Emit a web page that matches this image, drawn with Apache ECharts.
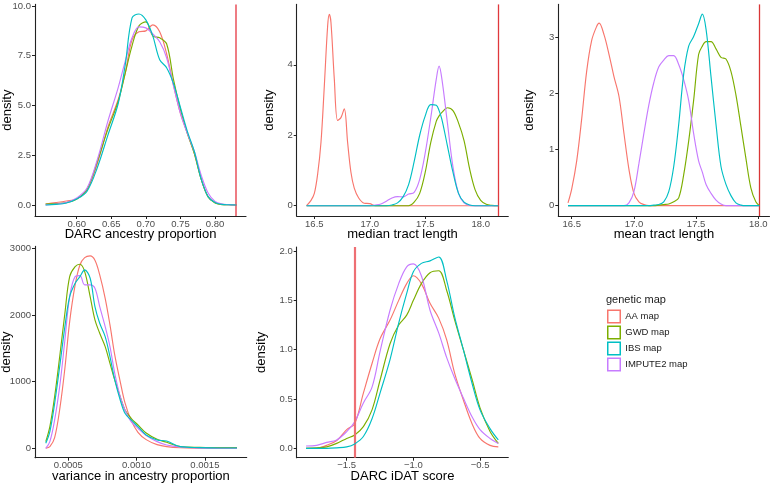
<!DOCTYPE html>
<html><head><meta charset="utf-8">
<script src="https://cdn.jsdelivr.net/npm/echarts@6/dist/echarts.min.js"></script>
<style>html,body{margin:0;padding:0;background:#fff}#c{width:770px;height:485px}</style>
</head><body><div id="c"></div>
<script>
// ---------- data ----------
const groupNames = ['AA map', 'GWD map', 'IBS map', 'IMPUTE2 map'];
const legendTitle = 'genetic map';
const xTitles = ['DARC ancestry proportion', 'median tract length', 'mean tract length', 'variance in ancestry proportion', 'DARC iDAT score'];
const yTitle = 'density';
const observedValues = [0.831, 18.16, 18.01, 0.000793, -1.438];

// panel 1: DARC ancestry proportion
const p1X   = [0.555,0.57,0.585,0.60,0.615,0.63,0.645,0.66,0.67,0.68,0.69,0.70,0.71,0.72,0.73,0.74,0.75,0.76,0.77,0.78,0.79,0.80,0.81,0.82,0.831];
const p1AA  = [0.05,0.12,0.2,0.3,0.75,2.1,3.9,5.3,6.6,8.3,8.7,8.75,9.05,8.7,7.6,6.0,4.6,3.6,2.6,1.3,0.42,0.12,0.03,0.01,0];
const p1GWD = [0.05,0.07,0.12,0.3,0.8,2.2,3.8,5.2,6.6,8.0,9.0,9.2,8.5,8.4,8.1,6.3,4.8,3.6,2.6,1.3,0.4,0.1,0.02,0.01,0];
const p1IBS = [0.0,0.03,0.1,0.3,0.7,1.9,3.5,5.1,7.0,9.4,9.6,9.3,8.5,7.3,6.9,6.1,4.9,3.7,2.7,1.3,0.42,0.12,0.03,0.01,0];
const p1IMP = [0.0,0.05,0.12,0.35,0.85,2.3,4.2,5.9,7.2,8.4,8.95,8.9,8.6,8.2,7.4,6.0,4.6,3.6,2.7,1.5,0.6,0.18,0.05,0.02,0];
const p1XTicks = [0.60,0.65,0.70,0.75,0.80];
const p1XTickLabels = ['0.60','0.65','0.70','0.75','0.80'];
const p1YTicks = [0,2.5,5,7.5,10];
const p1YTickLabels = ['0.0','2.5','5.0','7.5','10.0'];

// panel 2: median tract length
const p2X   = [16.43,16.47,16.50,16.53,16.56,16.59,16.62,16.635,16.65,16.68,16.71,16.74,16.77,16.80,16.83,16.86,16.90,16.95,17.00,17.05,17.10,17.15,17.20,17.25,17.30,17.35,17.40,17.45,17.50,17.55,17.60,17.625,17.65,17.70,17.75,17.80,17.85,17.90,17.95,18.00,18.05,18.10,18.16];
const p2AA  = [0,0.15,0.35,0.9,1.8,3.4,5.1,5.43,5.2,3.6,2.42,2.5,2.75,1.8,0.95,0.5,0.22,0.07,0.06,0,0,0,0,0,0,0,0,0,0,0,0,0,0,0,0,0,0,0,0,0,0,0,0];
const p2GWD = [0,0,0,0,0,0,0,0,0,0,0,0,0,0,0,0,0,0,0,0,0,0,0,0,0,0,0.1,0.35,0.95,1.8,2.4,2.55,2.65,2.78,2.7,2.35,1.85,1.05,0.45,0.15,0.04,0.01,0];
const p2IBS = [0,0,0,0,0,0,0,0,0,0,0,0,0,0,0,0,0,0,0,0,0,0,0.02,0.08,0.25,0.6,1.25,2.0,2.55,2.87,2.85,2.7,2.45,1.7,0.95,0.35,0.1,0.02,0,0,0,0,0];
const p2IMP = [0,0,0,0,0,0,0,0,0,0,0,0,0,0,0,0,0,0,0,0.02,0.05,0.13,0.22,0.26,0.25,0.33,0.38,0.75,1.5,2.5,3.6,3.96,3.6,2.35,1.1,0.35,0.08,0.01,0,0,0,0,0];
const p2XTicks = [16.5,17.0,17.5,18.0];
const p2XTickLabels = ['16.5','17.0','17.5','18.0'];
const p2YTicks = [0,2,4];
const p2YTickLabels = ['0','2','4'];

// panel 3: mean tract length
const p3X   = [16.47,16.50,16.54,16.58,16.62,16.66,16.70,16.72,16.76,16.80,16.84,16.88,16.92,16.96,17.00,17.04,17.08,17.12,17.16,17.20,17.24,17.28,17.32,17.36,17.40,17.44,17.48,17.52,17.55,17.58,17.62,17.66,17.70,17.74,17.78,17.82,17.86,17.90,17.94,17.98,18.01];
const p3AA  = [0.05,0.3,0.8,1.55,2.4,2.95,3.2,3.26,3.05,2.7,2.3,1.95,1.29,0.65,0.22,0.07,0.02,0,0,0,0,0,0,0,0,0,0,0,0,0,0,0,0,0,0,0,0,0,0,0,0];
const p3GWD = [0,0,0,0,0,0,0,0,0,0,0,0,0,0,0,0,0,0,0,0.01,0.02,0.03,0.07,0.14,0.55,1.15,1.88,2.7,2.85,2.93,2.93,2.8,2.65,2.62,2.4,1.98,1.42,0.85,0.32,0.07,0];
const p3IBS = [0,0,0,0,0,0,0,0,0,0,0,0,0,0,0,0,0,0,0.01,0.02,0.07,0.25,0.7,1.45,2.35,2.85,3.02,3.25,3.42,3.15,2.3,1.45,0.7,0.38,0.18,0.05,0.01,0,0,0,0];
const p3IMP = [0,0,0,0,0,0,0,0,0,0,0,0,0,0.05,0.25,0.75,1.29,1.8,2.2,2.48,2.6,2.68,2.68,2.52,2.25,1.88,1.29,0.8,0.6,0.38,0.22,0.1,0.03,0,0,0,0,0,0,0,0];
const p3XTicks = [16.5,17.0,17.5,18.0];
const p3XTickLabels = ['16.5','17.0','17.5','18.0'];
const p3YTicks = [0,1,2,3];
const p3YTickLabels = ['0','1','2','3'];

// panel 4: variance in ancestry proportion
const p4X   = [0.000335,0.000365,0.0004,0.00044,0.000475,0.00051,0.00055,0.000585,0.00062,0.00066,0.000695,0.00073,0.00077,0.000805,0.00084,0.00088,0.000915,0.00096,0.00101,0.00107,0.00115,0.00122,0.00132,0.00146,0.00161,0.001735];
const p4AA  = [0,25,160,625,1200,1900,2450,2750,2860,2885,2820,2600,2250,1850,1400,1000,680,420,240,130,55,25,8,2,0,0];
const p4GWD = [100,325,775,1425,2025,2575,2725,2760,2650,2275,1925,1725,1525,1275,1025,775,575,450,350,230,135,90,25,15,10,10];
const p4IBS = [75,250,675,1275,1825,2275,2475,2575,2675,2550,2125,1875,1675,1375,1025,725,525,425,325,200,125,110,25,10,5,5];
const p4IMP = [0,100,425,975,1625,2275,2575,2590,2450,2450,2400,2125,1825,1525,1125,775,575,400,300,190,100,50,20,5,0,0];
const p4XTicks = [0.0005,0.0010,0.0015];
const p4XTickLabels = ['0.0005','0.0010','0.0015'];
const p4YTicks = [0,1000,2000,3000];
const p4YTickLabels = ['0','1000','2000','3000'];

// panel 5: DARC iDAT score
const p5X   = [-1.805,-1.725,-1.65,-1.575,-1.5,-1.44,-1.375,-1.31,-1.25,-1.175,-1.11,-1.05,-1.0,-0.94,-0.875,-0.81,-0.75,-0.69,-0.625,-0.56,-0.5,-0.425,-0.363];
const p5AA  = [0,0,0.03,0.08,0.19,0.25,0.56,0.86,1.11,1.3,1.5,1.67,1.75,1.67,1.47,1.32,1.1,0.76,0.49,0.25,0.1,0.03,0.015];
const p5GWD = [0,0.005,0.015,0.05,0.1,0.135,0.22,0.39,0.69,1.06,1.25,1.35,1.5,1.67,1.78,1.8,1.6,1.3,1.0,0.7,0.41,0.17,0.05];
const p5IBS = [0,0,0,0.005,0.015,0.045,0.12,0.3,0.56,0.9,1.27,1.57,1.79,1.875,1.9,1.94,1.7,1.33,1.0,0.66,0.39,0.2,0.085];
const p5IMP = [0.024,0.03,0.06,0.085,0.17,0.27,0.46,0.62,0.98,1.4,1.67,1.84,1.87,1.75,1.4,1.17,0.92,0.71,0.51,0.32,0.19,0.1,0.05];
const p5XTicks = [-1.5,-1.0,-0.5];
const p5XTickLabels = ['\u22121.5','\u22121.0','\u22120.5'];
const p5YTicks = [0,0.5,1.0,1.5,2.0];
const p5YTickLabels = ['0.0','0.5','1.0','1.5','2.0'];

// ---------- assembly ----------
const panels = [
  {x: p1X, ys: [p1AA, p1GWD, p1IBS, p1IMP], xt: p1XTicks, xl: p1XTickLabels, yt: p1YTicks, yl: p1YTickLabels},
  {x: p2X, ys: [p2AA, p2GWD, p2IBS, p2IMP], xt: p2XTicks, xl: p2XTickLabels, yt: p2YTicks, yl: p2YTickLabels},
  {x: p3X, ys: [p3AA, p3GWD, p3IBS, p3IMP], xt: p3XTicks, xl: p3XTickLabels, yt: p3YTicks, yl: p3YTickLabels},
  {x: p4X, ys: [p4AA, p4GWD, p4IBS, p4IMP], xt: p4XTicks, xl: p4XTickLabels, yt: p4YTicks, yl: p4YTickLabels},
  {x: p5X, ys: [p5AA, p5GWD, p5IBS, p5IMP], xt: p5XTicks, xl: p5XTickLabels, yt: p5YTicks, yl: p5YTickLabels}
];

// layout & style
const FONT = '"Liberation Sans", Arial, Helvetica, sans-serif';
const groupColors = ['#F8766D', '#7CAE00', '#00BFC4', '#C77CFF'];
const drawOrder = [0, 1, 3, 2];
const layout = [
  {left: 35,    top: 4.4,   right: 246,   bottom: 216,   xMin: 0.5397,    xMax: 0.8448,   yMin: -0.553, yMax: 10.08, xGap: 11.5, yGap: 21,   vw: 1.5, vc: '#E8515A'},
  {left: 296.7, top: 4.4,   right: 508.3, bottom: 216,   xMin: 16.341,    xMax: 18.249,   yMin: -0.292, yMax: 5.714, xGap: 11.5, yGap: 21,   vw: 1.3, vc: '#E0383C'},
  {left: 558.3, top: 4.4,   right: 769.5, bottom: 216,   xMin: 16.392,    xMax: 18.09,    yMin: -0.184, yMax: 3.595, xGap: 11.5, yGap: 22.5, vw: 1.3, vc: '#D93636'},
  {left: 35,    top: 246.4, right: 246.7, bottom: 457.7, xMin: 0.0002562, xMax: 0.001806, yMin: -141,   yMax: 3028,  xGap: 12.5, yGap: 22.5, vw: 1.0, vc: '#E52B2B'},
  {left: 296.7, top: 247,   right: 508.3, bottom: 457.7, xMin: -1.875,    xMax: -0.288,   yMin: -0.095, yMax: 2.041, xGap: 12.5, yGap: 28.5, vw: 2.2, vc: '#EE6F74'}
];

function labelFor(ticks, labels) {
  return function (v) {
    for (let i = 0; i < ticks.length; i++) {
      if (Math.abs(ticks[i] - v) <= Math.abs(ticks[i]) * 1e-9 + 1e-15) return labels[i];
    }
    return '';
  };
}

const axisLine = {show: true, onZero: false, lineStyle: {color: '#222', width: 1.1}};
const grids = [], xAxes = [], yAxes = [], series = [];
panels.forEach((p, i) => {
  const L = layout[i];
  grids.push({left: L.left, top: L.top, width: L.right - L.left, height: L.bottom - L.top,
              containLabel: false, outerBoundsMode: 'none'});
  xAxes.push({
    type: 'value', gridIndex: i, min: L.xMin, max: L.xMax,
    axisLine: axisLine,
    axisTick: {show: true, length: 3, customValues: p.xt, lineStyle: {color: '#222', width: 1}},
    axisLabel: {customValues: p.xt, formatter: labelFor(p.xt, p.xl), fontSize: 9.5, color: '#4D4D4D', margin: 3, fontFamily: FONT},
    splitLine: {show: false},
    name: xTitles[i], nameLocation: 'middle', nameGap: L.xGap, nameMoveOverlap: false,
    nameTextStyle: {fontSize: 13, color: '#000', fontFamily: FONT}
  });
  yAxes.push({
    type: 'value', gridIndex: i, min: L.yMin, max: L.yMax,
    axisLine: axisLine,
    axisTick: {show: true, length: 3, customValues: p.yt, lineStyle: {color: '#222', width: 1}},
    axisLabel: {customValues: p.yt, formatter: labelFor(p.yt, p.yl), fontSize: 9.5, color: '#4D4D4D', margin: 4, fontFamily: FONT},
    splitLine: {show: false},
    name: yTitle, nameLocation: 'middle', nameGap: L.yGap, nameMoveOverlap: false,
    nameTextStyle: {fontSize: 13, color: '#000', fontFamily: FONT}
  });
  drawOrder.forEach((g, k) => {
    series.push({
      type: 'line', name: groupNames[g], xAxisIndex: i, yAxisIndex: i,
      data: p.x.map((xv, j) => [xv, p.ys[g][j]]),
      showSymbol: false, symbol: 'none', smooth: 0.35,
      lineStyle: {color: groupColors[g], width: 1.15},
      itemStyle: {color: groupColors[g]},
      emphasis: {disabled: true}, z: 2 + k
    });
  });
  series.push({
    type: 'line', xAxisIndex: i, yAxisIndex: i, data: [], z: 10, silent: true,
    markLine: {
      silent: true, symbol: ['none', 'none'], label: {show: false}, animation: false,
      lineStyle: {color: L.vc, width: L.vw, type: 'solid'},
      emphasis: {disabled: true},
      data: [{xAxis: observedValues[i]}]
    }
  });
});

const chart = echarts.init(document.getElementById('c'), null, {renderer: 'canvas'});
chart.setOption({
  animation: false,
  backgroundColor: '#fff',
  textStyle: {fontFamily: FONT},
  title: {text: legendTitle, left: 606, top: 294, padding: 0,
          textStyle: {fontSize: 11, fontWeight: 'normal', color: '#1A1A1A', fontFamily: FONT}},
  legend: {
    orient: 'vertical', left: 607, top: 309.5, padding: 0,
    itemWidth: 12.5, itemHeight: 12.5, itemGap: 2, icon: 'rect', selectedMode: false,
    textStyle: {fontSize: 9.5, color: '#1A1A1A', fontFamily: FONT, padding: [0, 0, 0, 0]},
    data: groupNames.map((n, i) => ({name: n, icon: 'rect',
      itemStyle: {color: '#FFFFFF', borderColor: groupColors[i], borderWidth: 1.5}}))
  },
  grid: grids, xAxis: xAxes, yAxis: yAxes, series: series
});
</script>
</body></html>
